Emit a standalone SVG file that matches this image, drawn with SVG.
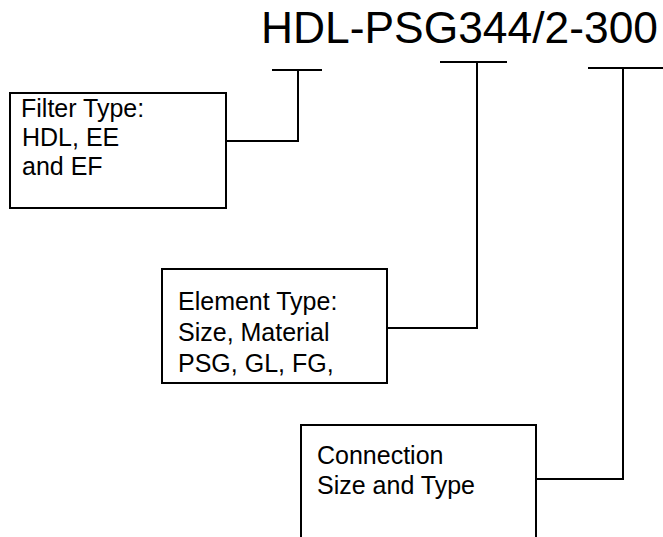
<svg xmlns="http://www.w3.org/2000/svg" width="663" height="537" viewBox="0 0 663 537">
<style>
.t{font-family:"Liberation Sans",Arial,sans-serif;fill:#000;font-size:25px}
.l{stroke:#000;stroke-width:2;fill:none}
.b{stroke:#000;stroke-width:2;fill:#fff}
</style>
<rect width="663" height="537" fill="#fff"/>
<text id="title" class="t" x="261" y="43" style="font-size:44px" textLength="397" lengthAdjust="spacingAndGlyphs">HDL-PSG344/2-300</text>
<g id="connectors">
<path class="l" d="M272 70H322M298 70V141H226"/>
<path class="l" d="M440 62H507M477 62V328H386"/>
<path class="l" d="M588 68H663M623 68V479H536"/>
</g>
<g id="filter">
<rect class="b" x="10" y="93" width="216" height="115"/>
<text class="t"><tspan x="21" y="117"> Filter Type:</tspan><tspan x="22" y="146">HDL, EE</tspan><tspan x="22" y="175">and EF</tspan></text>
</g>
<g id="element">
<rect class="b" x="162" y="269" width="225" height="114"/>
<text class="t"><tspan x="178" y="310">Element Type:</tspan><tspan x="178" y="341">Size, Material</tspan><tspan x="178" y="372">PSG, GL, FG,</tspan></text>
</g>
<g id="connection">
<path class="b" d="M301 537V425H536V537"/>
<text class="t"><tspan x="317" y="464">Connection</tspan><tspan x="317" y="494">Size and Type</tspan></text>
</g>
</svg>
